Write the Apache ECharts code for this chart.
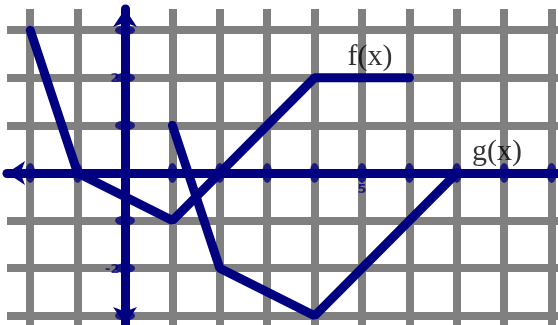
<!DOCTYPE html>
<html><head><meta charset="utf-8">
<script src="https://cdn.jsdelivr.net/npm/echarts@6/dist/echarts.min.js"></script>
<style>html,body{margin:0;padding:0;background:#fff}#c{width:558px;height:325px}</style>
</head><body><div id="c"></div>
<script>
// data
const gridX = [-2, -1, 0, 1, 2, 3, 4, 5, 6, 7, 8, 9];
const gridY = [-3, -2, -1, 0, 1, 2, 3];
const xTicks = [-2, -1, 1, 2, 3, 4, 5, 6, 7, 8, 9];
const yTicks = [-3, -2, -1, 1, 2, 3];
const xTickLabels = [5];
const yTickLabels = [2, -2];
const fX = [-2, -1, 1, 4, 6];
const fY = [3, 0, -1, 2, 2];
const gX = [1, 2, 4, 7];
const gY = [1, -2, -3, 0];
const fName = 'f(x)';
const gName = 'g(x)';
const fLabelPos = [5.17, 2.44];
const gLabelPos = [7.85, 0.44];

const NAVY = '#000080';
const GRAY = '#808080';
const chart = echarts.init(document.getElementById('c'));
chart.setOption({
  animation: false,
  grid: { left: 7, top: 9, right: 0, bottom: 0 },
  xAxis: {
    type: 'value', min: -2.49, max: 9.135, z: 10,
    axisLine: { show: true, onZero: true, symbol: ['arrow', 'none'], symbolSize: [18, 18],
      lineStyle: { color: NAVY, width: 9 } },
    axisTick: { show: false }, axisLabel: { show: false }, splitLine: { show: false }
  },
  yAxis: {
    type: 'value', min: -3.193, max: 3.445, z: 10,
    axisLine: { show: true, onZero: true, symbol: ['arrow', 'arrow'], symbolSize: [18, 18],
      lineStyle: { color: NAVY, width: 9 } },
    axisTick: { show: false }, axisLabel: { show: false }, splitLine: { show: false }
  },
  series: [
    {
      type: 'line', data: [], z: 1, silent: true,
      markLine: {
        silent: true, symbol: ['none', 'none'], animation: false, z: 1,
        label: { show: false },
        lineStyle: { color: GRAY, width: 8, type: 'solid' },
        data: gridX.map(v => ({ xAxis: v })).concat(gridY.map(v => ({ yAxis: v })))
      }
    },
    {
      type: 'scatter', symbol: 'circle', symbolSize: 1, z: 3, silent: true,
      itemStyle: { color: 'rgba(0,0,0,0)' },
      data: yTickLabels.map(v => [0, v]),
      label: { show: true, position: 'left', distance: 0, offset: [-5, 1], formatter: p => String(p.value[1]),
        color: NAVY, fontSize: 13, fontFamily: 'DejaVu Sans', fontWeight: 'bold' }
    },
    {
      type: 'scatter', symbol: 'circle', symbolSize: 1, z: 3, silent: true,
      itemStyle: { color: 'rgba(0,0,0,0)' },
      data: xTickLabels.map(v => [v, 0]),
      label: { show: true, position: 'bottom', distance: 10, formatter: p => String(p.value[0]),
        color: NAVY, fontSize: 13, fontFamily: 'DejaVu Sans', fontWeight: 'bold' }
    },
    {
      type: 'scatter', symbol: 'circle', symbolSize: [10, 20], z: 11, silent: true,
      itemStyle: { color: NAVY },
      data: xTicks.map(v => [v, 0])
    },
    {
      type: 'scatter', symbol: 'circle', symbolSize: [20, 10], z: 11, silent: true,
      itemStyle: { color: NAVY },
      data: yTicks.map(v => [0, v])
    },
    {
      type: 'line', name: fName, showSymbol: false, symbol: 'none', z: 5,
      data: fX.map((x, i) => [x, fY[i]]),
      lineStyle: { color: NAVY, width: 9, cap: 'round' }
    },
    {
      type: 'line', name: gName, showSymbol: false, symbol: 'none', z: 5,
      data: gX.map((x, i) => [x, gY[i]]),
      lineStyle: { color: NAVY, width: 9, cap: 'round' }
    },
    {
      type: 'scatter', symbol: 'circle', symbolSize: 1, z: 12, silent: true,
      itemStyle: { color: 'rgba(0,0,0,0)' },
      data: [{ value: fLabelPos, name: fName }, { value: gLabelPos, name: gName }],
      label: { show: true, position: 'inside', formatter: p => p.name,
        color: '#000', fontSize: 30, fontFamily: 'Liberation Serif' }
    }
  ]
});
</script>
</body></html>
